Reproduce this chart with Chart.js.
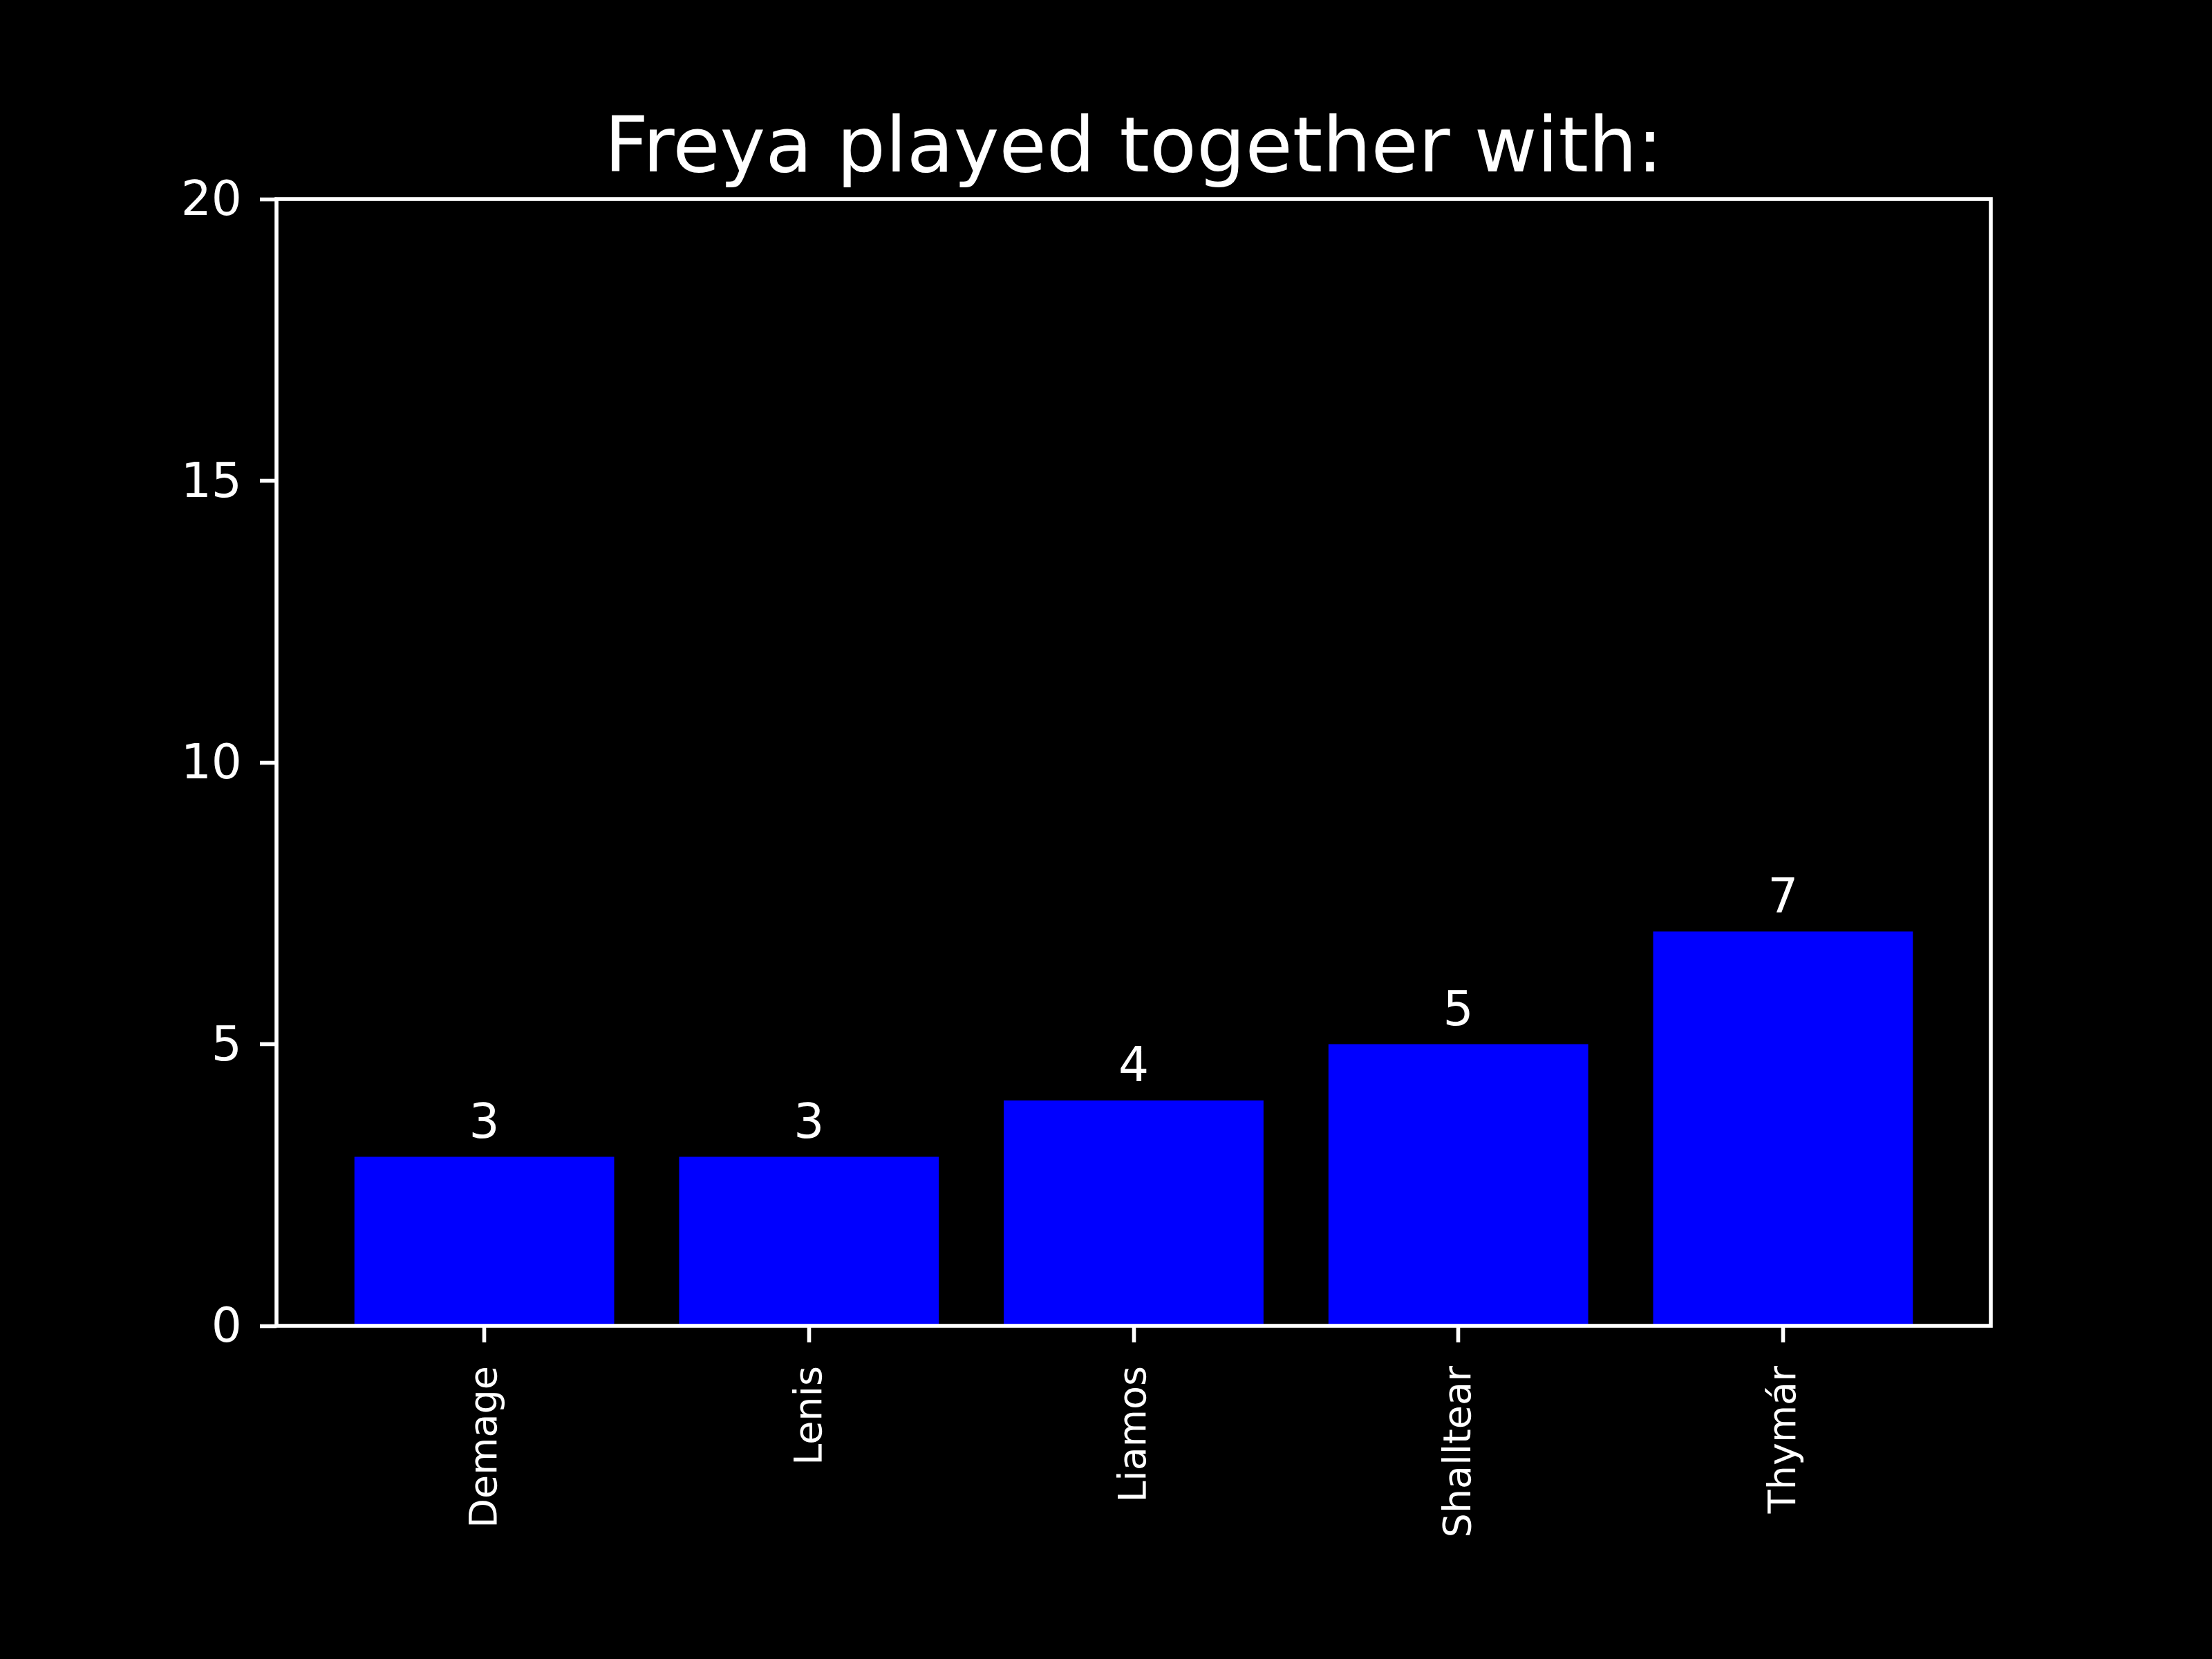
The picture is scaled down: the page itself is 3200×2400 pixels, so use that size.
<!DOCTYPE html>
<html>
<head>
<meta charset="utf-8">
<script src="https://cdn.jsdelivr.net/npm/chart.js@4/dist/chart.umd.min.js"></script>
<style>
  html, body { margin: 0; padding: 0; background: #000; }
  canvas { display: block; }
</style>
</head>
<body>
<canvas id="c" width="3200" height="2400"></canvas>
<script>
const categories = ["Demage", "Lenis", "Liamos", "Shalltear", "Thymár"];
const counts = [3, 3, 4, 5, 7];
const yTicks = [0, 5, 10, 15, 20];
const titleText = "Freya played together with:";

const FONT = "'DejaVu Sans', sans-serif";
const LW = 5.6;

const bgPlugin = {
  id: 'bg',
  beforeDraw(chart) {
    const ctx = chart.ctx;
    ctx.save();
    ctx.fillStyle = '#000';
    ctx.fillRect(0, 0, chart.width, chart.height);
    ctx.restore();
  }
};

const framePlugin = {
  id: 'frame',
  afterDraw(chart) {
    const a = chart.chartArea;
    const ctx = chart.ctx;
    ctx.save();
    ctx.strokeStyle = '#fff';
    ctx.lineWidth = LW;
    ctx.strokeRect(a.left, a.top, a.right - a.left, a.bottom - a.top);
    // title centred over the axes
    ctx.fillStyle = '#fff';
    ctx.font = "111px " + FONT;
    ctx.textAlign = 'center';
    ctx.textBaseline = 'alphabetic';
    ctx.fillText(titleText, (a.left + a.right) / 2, a.top - 40);
    ctx.restore();
  }
};

const barLabelPlugin = {
  id: 'barLabels',
  afterDatasetsDraw(chart) {
    const ctx = chart.ctx;
    const meta = chart.getDatasetMeta(0);
    ctx.save();
    ctx.fillStyle = '#fff';
    ctx.font = "69.4px " + FONT;
    ctx.textAlign = 'center';
    ctx.textBaseline = 'alphabetic';
    meta.data.forEach((bar, i) => {
      ctx.fillText(String(counts[i]), bar.x, bar.y - 28);
    });
    ctx.restore();
  }
};

new Chart(document.getElementById('c'), {
  type: 'bar',
  data: {
    datasets: [{
      data: categories.map((c, i) => ({ x: i, y: counts[i] })),
      backgroundColor: '#0000ff',
      borderWidth: 0,
      categoryPercentage: 0.8,
      barPercentage: 1.0
    }]
  },
  options: {
    responsive: false,
    devicePixelRatio: 1,
    animation: false,
    layout: { padding: { left: 250, right: 320, top: 288, bottom: 82 } },
    plugins: {
      legend: { display: false },
      tooltip: { enabled: false },
      title: { display: false }
    },
    scales: {
      x: {
        type: 'linear',
        min: -0.64,
        max: 4.64,
        offset: false,
        clip: false,
        afterBuildTicks(s) { s.ticks = categories.map((c, i) => ({ value: i })); },
        afterFit(s) { s.height = 400; },
        grid: {
          display: true, drawOnChartArea: false, drawTicks: true,
          tickLength: 24, tickWidth: LW, tickColor: '#fff', offset: false
        },
        border: { display: false },
        ticks: {
          autoSkip: false,
          minRotation: 90, maxRotation: 90,
          padding: 34,
          labelOffset: 3,
          color: '#fff',
          font: { family: FONT, size: 55.6 },
          callback: (v) => categories[v]
        }
      },
      y: {
        type: 'linear',
        min: 0,
        max: 20,
        clip: false,
        afterBuildTicks(s) { s.ticks = yTicks.map(v => ({ value: v })); },
        afterFit(s) { s.width = 150; },
        grid: {
          display: true, drawOnChartArea: false, drawTicks: true,
          tickLength: 24, tickWidth: LW, tickColor: '#fff'
        },
        border: { display: false },
        ticks: {
          padding: 26,
          labelOffset: 5,
          color: '#fff',
          font: { family: FONT, size: 69.4 }
        }
      }
    }
  },
  plugins: [bgPlugin, barLabelPlugin, framePlugin]
});
</script>
</body>
</html>
